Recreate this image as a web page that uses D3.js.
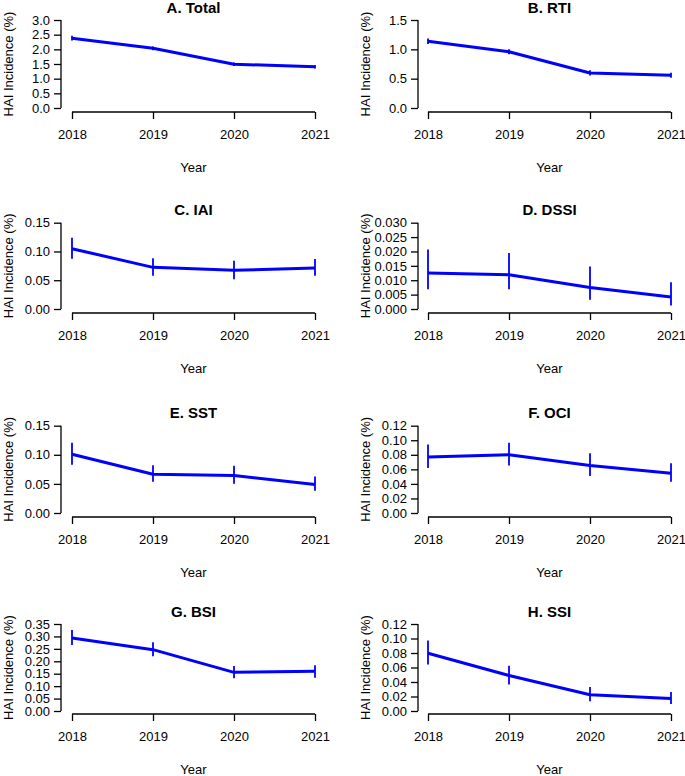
<!DOCTYPE html>
<html>
<head>
<meta charset="utf-8">
<script src="https://cdn.jsdelivr.net/npm/d3@7"></script>
<style>
  body { margin: 0; background: #fff; }
  svg { display: block; }
  text { font-family: "Liberation Sans", Arial, Helvetica, sans-serif; fill: #000; }
</style>
</head>
<body>
<svg id="chart" width="685" height="776"></svg>
<script>
// ---- Data ----
const years = [2018, 2019, 2020, 2021];

const panelTitles = ["A. Total", "B. RTI", "C. IAI", "D. DSSI", "E. SST", "F. OCI", "G. BSI", "H. SSI"];

const totalValues = [2.38, 2.035, 1.49, 1.41];
const totalLower  = [2.30, 1.97, 1.43, 1.35];
const totalUpper  = [2.46, 2.10, 1.55, 1.47];

const rtiValues = [1.137, 0.96, 0.597, 0.557];
const rtiLower  = [1.09, 0.918, 0.553, 0.515];
const rtiUpper  = [1.185, 1.003, 0.642, 0.600];

const iaiValues = [0.1048, 0.0724, 0.0672, 0.0712];
const iaiLower  = [0.0875, 0.058, 0.0515, 0.058];
const iaiUpper  = [0.1239, 0.088, 0.084, 0.0869];

const dssiValues = [0.0125, 0.0119, 0.0075, 0.0042];
const dssiLower  = [0.0069, 0.0069, 0.0032, 0.0012];
const dssiUpper  = [0.0207, 0.0195, 0.0148, 0.0093];

const sstValues = [0.101, 0.0667, 0.0644, 0.049];
const sstLower  = [0.0827, 0.0536, 0.0502, 0.0382];
const sstUpper  = [0.1209, 0.0821, 0.081, 0.0627];

const ociValues = [0.077, 0.0801, 0.0652, 0.0548];
const ociLower  = [0.062, 0.0652, 0.0507, 0.043];
const ociUpper  = [0.0942, 0.0965, 0.082, 0.0684];

const bsiValues = [0.2937, 0.2467, 0.1556, 0.1596];
const bsiLower  = [0.2655, 0.2199, 0.1314, 0.134];
const bsiUpper  = [0.326, 0.2762, 0.181, 0.1837];

const ssiValues = [0.0797, 0.049, 0.0224, 0.0174];
const ssiLower  = [0.0641, 0.0366, 0.0133, 0.0096];
const ssiUpper  = [0.0971, 0.0623, 0.033, 0.0261];

const totalTicks = [0, 0.5, 1.0, 1.5, 2.0, 2.5, 3.0];
const rtiTicks   = [0, 0.5, 1.0, 1.5];
const iaiTicks   = [0, 0.05, 0.10, 0.15];
const dssiTicks  = [0, 0.005, 0.010, 0.015, 0.020, 0.025, 0.030];
const sstTicks   = [0, 0.05, 0.10, 0.15];
const ociTicks   = [0, 0.02, 0.04, 0.06, 0.08, 0.10, 0.12];
const bsiTicks   = [0, 0.05, 0.10, 0.15, 0.20, 0.25, 0.30, 0.35];
const ssiTicks   = [0, 0.02, 0.04, 0.06, 0.08, 0.10, 0.12];

const tickFormats = [".1f", ".1f", ".2f", ".3f", ".2f", ".2f", ".2f", ".2f"];
const yAxisLabel = "HAI Incidence (%)";
const xAxisLabel = "Year";

const panels = [
  { v: totalValues, lo: totalLower, hi: totalUpper, ticks: totalTicks },
  { v: rtiValues, lo: rtiLower, hi: rtiUpper, ticks: rtiTicks },
  { v: iaiValues, lo: iaiLower, hi: iaiUpper, ticks: iaiTicks },
  { v: dssiValues, lo: dssiLower, hi: dssiUpper, ticks: dssiTicks },
  { v: sstValues, lo: sstLower, hi: sstUpper, ticks: sstTicks },
  { v: ociValues, lo: ociLower, hi: ociUpper, ticks: ociTicks },
  { v: bsiValues, lo: bsiLower, hi: bsiUpper, ticks: bsiTicks },
  { v: ssiValues, lo: ssiLower, hi: ssiUpper, ticks: ssiTicks }
];

// ---- Layout ----
const colAxisX = [61, 418];          // y-axis line position
const colX0 = [72, 428];             // x of first year
const colX1 = [315, 671];            // x of last year
const rowTop = [20, 222.7, 425.7, 624];   // y of max tick
const rowZero = [108, 309, 513, 711];     // y of zero tick
const rowXAxis = [112, 313, 517, 714];    // y of x-axis line

const svg = d3.select("#chart");
const blue = "#0000ff";

panels.forEach((p, i) => {
  const col = i % 2, row = Math.floor(i / 2);
  const g = svg.append("g");
  const x = d3.scaleLinear().domain([years[0], years[years.length - 1]]).range([colX0[col], colX1[col]]);
  const yMax = p.ticks[p.ticks.length - 1];
  const y = d3.scaleLinear().domain([0, yMax]).range([rowZero[row], rowTop[row]]);

  // y axis
  const yAxis = d3.axisLeft(y).tickValues(p.ticks).tickFormat(d3.format(tickFormats[i]))
    .tickSize(7).tickPadding(4);
  const ya = g.append("g").attr("transform", `translate(${colAxisX[col]},0)`).call(yAxis);
  ya.select(".domain").attr("d", `M0,${y(0)}V${y(yMax)}`).attr("stroke", "#000").attr("stroke-width", 1.3);
  ya.selectAll(".tick line").attr("stroke", "#000").attr("stroke-width", 1.3);
  ya.selectAll(".tick text").attr("font-size", 13).attr("font-family", "Liberation Sans, Arial, sans-serif").attr("fill", "#000");

  // x axis
  const xAxis = d3.axisBottom(x).tickValues(years).tickFormat(d3.format("d")).tickSize(7).tickPadding(11);
  const xa = g.append("g").attr("transform", `translate(0,${rowXAxis[row]})`).call(xAxis);
  xa.select(".domain").attr("d", `M${x(years[0])},0H${x(years[years.length - 1])}`).attr("stroke", "#000").attr("stroke-width", 1.3);
  xa.selectAll(".tick line").attr("stroke", "#000").attr("stroke-width", 1.3);
  xa.selectAll(".tick text").attr("font-size", 13).attr("font-family", "Liberation Sans, Arial, sans-serif").attr("fill", "#000");

  // error bars
  g.selectAll(".err").data(years).enter().append("line")
    .attr("x1", d => x(d)).attr("x2", d => x(d))
    .attr("y1", (d, j) => y(p.lo[j])).attr("y2", (d, j) => y(p.hi[j]))
    .attr("stroke", blue).attr("stroke-width", 1.8);

  // line
  const line = d3.line().x((d, j) => x(years[j])).y(d => y(d));
  g.append("path").datum(p.v).attr("d", line)
    .attr("fill", "none").attr("stroke", blue).attr("stroke-width", 3).attr("stroke-linejoin", "round");

  // title
  g.append("text")
    .attr("x", (colX0[col] + colX1[col]) / 2).attr("y", rowTop[row] - 13)
    .attr("text-anchor", "middle").attr("dominant-baseline", "central")
    .attr("font-size", 15).attr("font-weight", "bold").text(panelTitles[i]);

  // x label
  g.append("text")
    .attr("x", (colX0[col] + colX1[col]) / 2).attr("y", rowXAxis[row] + 55)
    .attr("text-anchor", "middle").attr("dominant-baseline", "central")
    .attr("font-size", 13).text(xAxisLabel);

  // y label
  const cy = (rowTop[row] + rowZero[row]) / 2;
  const cx = colAxisX[col] - 53;
  g.append("text")
    .attr("transform", `translate(${cx},${cy}) rotate(-90)`)
    .attr("text-anchor", "middle").attr("dominant-baseline", "central")
    .attr("font-size", 13).text(yAxisLabel);
});
</script>
</body>
</html>
